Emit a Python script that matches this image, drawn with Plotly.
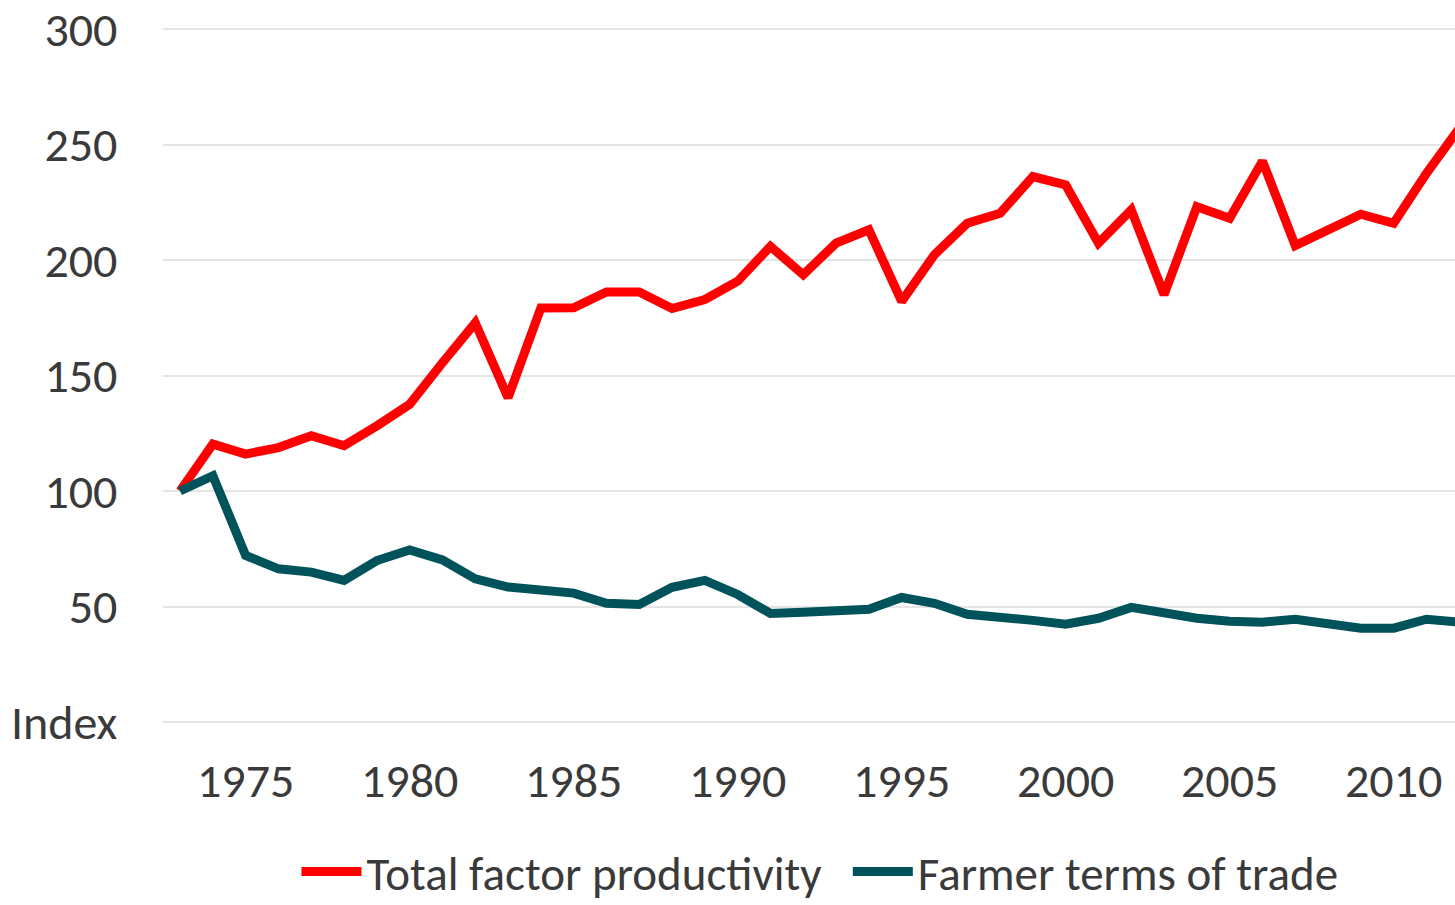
import plotly.graph_objects as go

# Index values, 1973 = 100
years = list(range(1973, 2013))
tfp = [100, 120.3, 116, 118.8, 123.9, 119.6, 128.2, 137.5, 155.5, 172.8,
       140.4, 179.2, 179.3, 186.2, 186.2, 179, 182.9, 190.8, 205.9, 193.6,
       207.3, 213.1, 182.1, 202.3, 215.9, 220.2, 236.1, 232.5, 207.3, 221.7,
       185, 223.1, 218.1, 242.8, 206.2, 213.1, 219.8, 215.9, 237.5, 257]
terms_of_trade = [100, 106.6, 72.1, 66.3, 64.9, 61.3, 69.9, 74.5, 70.2, 62,
                  58.4, 57.3, 55.8, 51.4, 50.9, 58.3, 61.3, 55.2, 47, 47.5,
                  47.9, 48.8, 53.9, 51.4, 46.6, 45.7, 44, 42.3, 44.9, 49.6,
                  47, 44.9, 43.6, 43.2, 44.5, 42.7, 40.6, 40.6, 44.5, 43.2]

x_ticks = [1975, 1980, 1985, 1990, 1995, 2000, 2005, 2010]
y_ticks = [0, 50, 100, 150, 200, 250, 300]
y_labels = ['Index', '50', '100', '150', '200', '250', '300']

font_family = "Calibri, Carlito, Lato, sans-serif"
text_color = "#3a3a3a"
fs = 48

fig = go.Figure()
fig.add_trace(go.Scatter(
    x=years, y=tfp, mode='lines',
    name='Total factor productivity\u00a0\u00a0',
    line=dict(color='#ff0000', width=9)
))
fig.add_trace(go.Scatter(
    x=years, y=terms_of_trade, mode='lines', name='Farmer terms of trade',
    line=dict(color='#00525b', width=9)
))

fig.update_layout(
    width=1455, height=905,
    margin=dict(l=163, r=0, t=23, b=180),
    paper_bgcolor='white', plot_bgcolor='white',
    font=dict(family=font_family, size=fs, color=text_color),
    showlegend=True,
    legend=dict(
        orientation='h', x=0.5085, xanchor='center',
        yref='container', y=1 - 872 / 905, yanchor='middle',
        font=dict(size=47, color=text_color),
        itemwidth=60, tracegroupgap=0
    ),
    xaxis=dict(
        range=[1972.48, 2011.87],
        tickvals=x_ticks,
        showgrid=False, zeroline=False, showline=False,
        ticks='outside', ticklen=13, tickcolor='rgba(0,0,0,0)',
        tickfont=dict(size=fs, color=text_color),
        ticklabeloverflow='allow'
    ),
    yaxis=dict(
        range=[-1.3, 301.3],
        tickvals=y_ticks, ticktext=y_labels,
        showgrid=True, gridcolor='#e5e5e5', gridwidth=1.5,
        zeroline=False, showline=False,
        ticks='outside', ticklen=35, tickcolor='rgba(0,0,0,0)',
        tickfont=dict(size=fs, color=text_color),
        ticklabeloverflow='allow'
    )
)

# drop the default 8px page margin so the figure sits at the window corner
fig.write_html("out.html", config={'displayModeBar': False},
               post_script="document.body.style.margin='0';")
